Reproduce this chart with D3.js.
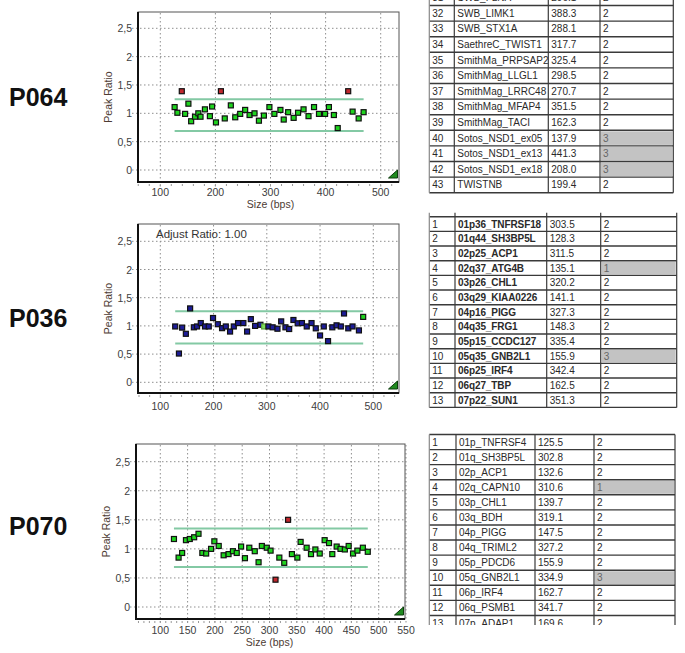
<!DOCTYPE html>
<html>
<head>
<meta charset="utf-8">
<script src="https://cdn.jsdelivr.net/npm/d3@7"></script>
<style>
body { margin: 0; background: #fff; }
svg { display: block; }
text { font-family: "Liberation Sans", Arial, sans-serif; }
</style>
</head>
<body>
<svg id="fig" width="685" height="653"></svg>
<script>
// ---- chart data ----
var p064Size = [126,131,139,145,151,156,163,169,173,181,190,194,201,210,217,228,236,245,254,262,271,279,288,298,307,318,324,332,342,350,360,369,379,388,399,406,415,422,441,449,460,469];
var p064Ratio = [1.11,1.01,1.39,0.99,1.17,0.86,0.94,1.0,0.94,1.07,0.95,1.12,0.84,1.39,0.91,1.14,0.93,0.99,1.06,0.97,1.0,0.87,0.96,1.11,0.99,1.06,0.89,1.02,0.92,1.01,1.07,0.95,1.11,0.99,0.99,1.11,0.97,0.74,1.39,1.03,0.91,1.02];
var p064Red = [139, 210, 441];

var p036Size = [128,135,141,148,156,163,169,176,184,191,199,208,216,223,231,238,246,256,263,270,278,288,295,303,311,320,327,335,342,350,358,366,375,384,392,400,407,415,423,431,439,445,453,461,473,481];
var p036Ratio = [0.99,0.51,0.97,0.86,1.31,0.975,0.99,1.05,0.99,0.99,1.14,1.03,0.96,0.99,0.90,0.99,1.05,1.05,0.90,1.12,1.0,1.02,0.99,0.99,0.975,0.95,1.08,0.975,0.945,1.105,1.046,1.05,0.99,1.05,0.957,0.83,0.99,0.73,0.975,1.01,0.99,1.22,0.957,0.99,0.92,1.16];
var p036Ref = [295];
var p036Green = [481];

var p070Size = [125,133.5,140,147,154,162,170,177,184,193,199,207,216,225,233,240,248,255,263,273,280,286,295,302,311,318,327,334,341,351,357,368,376,384,392,401,409,415,423,430,438,445,453,461,471,480];
var p070Ratio = [1.17,0.85,0.93,1.15,1.17,1.2,1.26,0.93,0.92,1.0,1.13,1.05,0.89,0.91,0.96,0.93,1.04,0.84,1.02,0.96,0.77,1.05,1.02,0.97,0.47,0.85,0.76,1.5,0.91,0.85,1.12,1.02,0.91,0.99,0.92,1.15,1.1,0.91,1.04,1.0,0.99,1.05,0.92,0.97,1.02,0.95];
var p070Red = [311, 334];

var yTicks = [0, 0.5, 1, 1.5, 2, 2.5];

// ---- table data ----
var t1Index = [31,32,33,34,35,36,37,38,39,40,41,42,43];
var t1Name = ['SWB_FLNA','SWB_LIMK1','SWB_STX1A','SaethreC_TWIST1','SmithMa_PRPSAP2','SmithMag_LLGL1','SmithMag_LRRC48','SmithMag_MFAP4','SmithMag_TACI','Sotos_NSD1_ex05','Sotos_NSD1_ex13','Sotos_NSD1_ex18','TWISTNB'];
var t1Size = ['296.1','388.3','288.1','317.7','325.4','298.5','270.7','351.5','162.3','137.9','441.3','208.0','199.4'];
var t1Ratio = [2,2,2,2,2,2,2,2,2,3,3,3,2];

var t2Index = [1,2,3,4,5,6,7,8,9,10,11,12,13];
var t2Name = ['01p36_TNFRSF18','01q44_SH3BP5L','02p25_ACP1','02q37_ATG4B','03p26_CHL1','03q29_KIAA0226','04p16_PIGG','04q35_FRG1','05p15_CCDC127','05q35_GNB2L1','06p25_IRF4','06q27_TBP','07p22_SUN1'];
var t2Size = ['303.5','128.3','311.5','135.1','320.2','141.1','327.3','148.3','335.4','155.9','342.4','162.5','351.3'];
var t2Ratio = [2,2,2,1,2,2,2,2,2,3,2,2,2];

var t3Index = [1,2,3,4,5,6,7,8,9,10,11,12,13];
var t3Name = ['01p_TNFRSF4','01q_SH3BP5L','02p_ACP1','02q_CAPN10','03p_CHL1','03q_BDH','04p_PIGG','04q_TRIML2','05p_PDCD6','05q_GNB2L1','06p_IRF4','06q_PSMB1','07p_ADAP1'];
var t3Size = ['125.5','302.8','132.6','310.6','139.7','319.1','147.5','327.2','155.9','334.9','162.7','341.7','169.6'];
var t3Ratio = [2,2,2,1,2,2,2,2,2,3,2,2,2];

var svg = d3.select('#fig');
var clipCount = 0;

function drawPanel(p) {
	var g = svg.append('g');
	var x = d3.scaleLinear().domain(p.xAnchor).range(p.xPix);
	var y = d3.scaleLinear().domain([0, 2.5]).range(p.yPix);
	var f = p.frame;

	g.append('rect')
		.attr('x', f.l).attr('y', f.t)
		.attr('width', f.r - f.l).attr('height', f.b - f.t)
		.attr('fill', '#fff');

	// dotted grid, running a little outside the frame as ticks
	g.selectAll('.vg').data(p.xTicks).enter().append('line')
		.attr('x1', function(d) { return x(d); })
		.attr('x2', function(d) { return x(d); })
		.attr('y1', f.t + 1).attr('y2', f.b + 5)
		.attr('stroke', '#8f8f8f').attr('stroke-width', 1)
		.attr('stroke-dasharray', '1.5,2.5');

	g.selectAll('.hg').data(yTicks).enter().append('line')
		.attr('x1', f.l - 6).attr('x2', f.r - 1)
		.attr('y1', function(d) { return y(d); })
		.attr('y2', function(d) { return y(d); })
		.attr('stroke', '#8f8f8f').attr('stroke-width', 1)
		.attr('stroke-dasharray', '1.5,2.5');

	// minor ticks under the x axis
	var minor = d3.range(p.minorStart, p.minorEnd + 1, p.minorStep);
	g.selectAll('.mt').data(minor).enter().append('line')
		.attr('x1', function(d) { return x(d); })
		.attr('x2', function(d) { return x(d); })
		.attr('y1', f.b + 2).attr('y2', f.b + 4)
		.attr('stroke', '#999').attr('stroke-width', 1);

	// frame
	g.append('rect')
		.attr('x', f.l).attr('y', f.t)
		.attr('width', f.r - f.l).attr('height', f.b - f.t)
		.attr('fill', 'none').attr('stroke', '#555').attr('stroke-width', 1);
	g.append('path')
		.attr('d', 'M' + f.l + ',' + f.t + 'V' + f.b + 'H' + f.r)
		.attr('fill', 'none').attr('stroke', '#111').attr('stroke-width', 2);

	// tick labels
	g.selectAll('.yl').data(yTicks).enter().append('text')
		.attr('x', f.l - 6)
		.attr('y', function(d) { return y(d) + 4; })
		.attr('text-anchor', 'end')
		.attr('font-size', 10.5).attr('fill', '#404040')
		.text(function(d) { return String(d).replace('.', ','); });

	g.selectAll('.xl').data(p.xTicks).enter().append('text')
		.attr('x', function(d) { return x(d); })
		.attr('y', p.xLabelY)
		.attr('text-anchor', 'middle')
		.attr('font-size', 10.5).attr('fill', '#404040')
		.text(function(d) { return d; });

	g.append('text')
		.attr('transform', 'translate(' + (f.l - 26) + ',' + ((f.t + f.b) / 2) + ') rotate(-90)')
		.attr('text-anchor', 'middle')
		.attr('font-size', 10.5).attr('fill', '#4d3b33')
		.text('Peak Ratio');

	if (p.titleY) {
		g.append('text')
			.attr('x', x(300)).attr('y', p.titleY)
			.attr('text-anchor', 'middle')
			.attr('font-size', 10.5).attr('fill', '#4d3b33')
			.text('Size (bps)');
	}

	if (p.note) {
		g.append('text')
			.attr('x', f.l + 18).attr('y', f.t + 14)
			.attr('font-size', 11.5).attr('fill', '#333')
			.text(p.note);
	}

	// threshold lines
	var ext = d3.extent(p.size);
	var line = d3.line()
		.x(function(d) { return x(d[0]); })
		.y(function(d) { return y(d[1]); });
	[p.upper, p.lower].forEach(function(v) {
		g.append('path')
			.attr('d', line([[ext[0], v], [ext[1], v]]))
			.attr('stroke', '#83c9a4').attr('stroke-width', 2).attr('fill', 'none');
	});

	// points
	var pts = p.size.map(function(s, i) { return {s: s, r: p.ratio[i]}; });
	g.selectAll('.pt').data(pts).enter().append('rect')
		.attr('x', function(d) { return x(d.s) - 2.5; })
		.attr('y', function(d) { return y(d.r) - 2.5; })
		.attr('width', 5).attr('height', 5)
		.attr('fill', function(d) { return p.color(d.s); })
		.attr('stroke', function(d) { return p.color(d.s) == '#7ee05a' ? '#5aa040' : '#111'; })
		.attr('stroke-width', 1.2);

	// corner marker
	var cx = f.r - 1.5, cy = f.b - 4;
	g.append('path')
		.attr('d', 'M' + (cx - 9) + ',' + cy + 'L' + cx + ',' + (cy - 8) + 'L' + cx + ',' + cy + 'Z')
		.attr('fill', '#1f8a1f').attr('stroke', '#0d3d0d').attr('stroke-width', 1);
}

function drawTable(t) {
	clipCount++;
	var id = 'tclip' + clipCount;
	svg.append('clipPath').attr('id', id)
		.append('rect')
		.attr('x', t.cols[0] - 2).attr('y', t.clipTop)
		.attr('width', t.cols[4] - t.cols[0] + 4).attr('height', t.clipBottom - t.clipTop);
	var g = svg.append('g').attr('clip-path', 'url(#' + id + ')');
	var n = t.index.length;
	var rowY = function(i) { return t.top + i * t.rowH; };

	for (var i = 0; i < n; i++) {
		if (t.ratio[i] != 2) {
			g.append('rect')
				.attr('x', t.cols[3] + 1).attr('y', rowY(i) + 1)
				.attr('width', t.cols[4] - t.cols[3] - 2).attr('height', t.rowH - 2)
				.attr('fill', '#c3c3c3');
		}
		var ty = rowY(i) + t.rowH / 2 + 3.5;
		var cells = [t.index[i], t.name[i], t.size[i], t.ratio[i]];
		for (var c = 0; c < 4; c++) {
			g.append('text')
				.attr('x', t.cols[c] + 3).attr('y', ty)
				.attr('font-size', 10)
				.attr('font-weight', c == 1 && t.bold ? 'bold' : 'normal')
				.attr('letter-spacing', c == 1 && t.bold ? -0.1 : 0)
				.attr('fill', c == 3 && t.ratio[i] != 2 ? '#666' : '#2a2a2a')
				.text(cells[c]);
		}
	}

	var hy = d3.range(n + 1).map(rowY);
	g.selectAll('.hl').data(hy).enter().append('line')
		.attr('x1', t.cols[0]).attr('x2', t.cols[4])
		.attr('y1', function(d) { return d; }).attr('y2', function(d) { return d; })
		.attr('stroke', '#3a3a3a').attr('stroke-width', 1.4);
	g.selectAll('.vl').data(t.cols).enter().append('line')
		.attr('x1', function(d) { return d; }).attr('x2', function(d) { return d; })
		.attr('y1', rowY(0) - t.stub).attr('y2', rowY(n))
		.attr('stroke', function(d, i) { return i == 0 ? '#888' : '#3a3a3a'; })
		.attr('stroke-width', 1.2);
}

// sample labels
[['P064', 106], ['P036', 327], ['P070', 535]].forEach(function(d) {
	svg.append('text')
		.attr('x', 9).attr('y', d[1])
		.attr('font-size', 25).attr('font-weight', 'bold').attr('fill', '#111')
		.text(d[0]);
});

drawPanel({
	frame: {l: 138, r: 399, t: 12, b: 182},
	xAnchor: [100, 500], xPix: [160.3, 380.7], yPix: [170, 28.3],
	xTicks: [100, 200, 300, 400, 500],
	minorStart: 60, minorEnd: 520, minorStep: 20,
	xLabelY: 196, titleY: 208,
	upper: 1.25, lower: 0.69,
	size: p064Size, ratio: p064Ratio,
	color: function(s) { return p064Red.indexOf(s) >= 0 ? '#c0272d' : '#1ed31e'; }
});

drawPanel({
	frame: {l: 138, r: 399, t: 224, b: 393},
	xAnchor: [100, 500], xPix: [160.3, 373.3], yPix: [382.3, 241.3],
	xTicks: [100, 200, 300, 400, 500],
	minorStart: 60, minorEnd: 540, minorStep: 20,
	xLabelY: 410, titleY: null,
	note: 'Adjust Ratio: 1.00',
	upper: 1.26, lower: 0.69,
	size: p036Size, ratio: p036Ratio,
	color: function(s) {
		if (p036Ref.indexOf(s) >= 0) return '#7ee05a';
		if (p036Green.indexOf(s) >= 0) return '#1ed31e';
		return '#1c1c96';
	}
});

drawPanel({
	frame: {l: 136, r: 405, t: 444, b: 619},
	xAnchor: [100, 550], xPix: [160.3, 406], yPix: [607, 461.7],
	xTicks: [100, 150, 200, 250, 300, 350, 400, 450, 500, 550],
	minorStart: 60, minorEnd: 540, minorStep: 10,
	xLabelY: 634, titleY: 646,
	upper: 1.35, lower: 0.69,
	size: p070Size, ratio: p070Ratio,
	color: function(s) { return p070Red.indexOf(s) >= 0 ? '#c0272d' : '#1ed31e'; }
});

drawTable({
	cols: [429.3, 454.3, 548.3, 600, 673.3],
	top: -10.1, rowH: 15.6, stub: 0, clipTop: 0, clipBottom: 200,
	index: t1Index, name: t1Name, size: t1Size, ratio: t1Ratio, bold: false
});

drawTable({
	cols: [429.3, 455, 546.7, 600.7, 676.7],
	top: 216.7, rowH: 14.67, stub: 4, clipTop: 205, clipBottom: 415,
	index: t2Index, name: t2Name, size: t2Size, ratio: t2Ratio, bold: true
});

drawTable({
	cols: [429.3, 456, 535, 594, 675],
	top: 434.5, rowH: 15.08, stub: 0, clipTop: 425, clipBottom: 625,
	index: t3Index, name: t3Name, size: t3Size, ratio: t3Ratio, bold: false
});
</script>
</body>
</html>
